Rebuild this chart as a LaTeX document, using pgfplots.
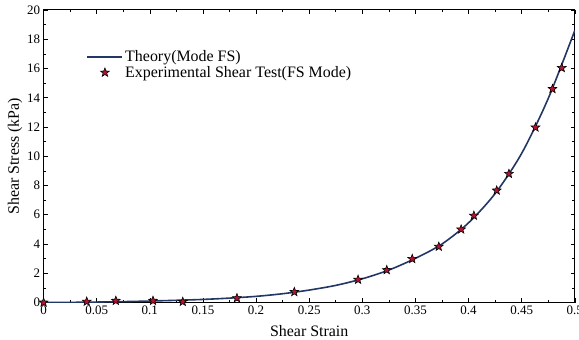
\documentclass[border=0pt]{standalone}
\usepackage{fontspec}
\setmainfont{Liberation Serif}
\usepackage{pgfplots}
\pgfplotsset{compat=1.18}
\definecolor{theory}{RGB}{35,55,100}
\definecolor{starred}{RGB}{175,20,50}
\pgfdeclareplotmark{fstar}{%
 \pgfpathmoveto{\pgfpointpolar{90}{\pgfplotmarksize}}%
 \pgfpathlineto{\pgfpointpolar{126}{0.42*\pgfplotmarksize}}%
 \pgfpathlineto{\pgfpointpolar{162}{\pgfplotmarksize}}%
 \pgfpathlineto{\pgfpointpolar{198}{0.42*\pgfplotmarksize}}%
 \pgfpathlineto{\pgfpointpolar{234}{\pgfplotmarksize}}%
 \pgfpathlineto{\pgfpointpolar{270}{0.42*\pgfplotmarksize}}%
 \pgfpathlineto{\pgfpointpolar{306}{\pgfplotmarksize}}%
 \pgfpathlineto{\pgfpointpolar{342}{0.42*\pgfplotmarksize}}%
 \pgfpathlineto{\pgfpointpolar{18}{\pgfplotmarksize}}%
 \pgfpathlineto{\pgfpointpolar{54}{0.42*\pgfplotmarksize}}%
 \pgfpathclose
 \pgfusepathqfillstroke
}
\pgfplotsset{
  theoryleg/.style={legend image code/.code={\draw[##1] (0bp,0bp) -- (35bp,0bp);}},
  starleg/.style={legend image code/.code={\draw[mark repeat=2,mark phase=2,##1] plot coordinates {(0bp,0bp)(17.5bp,0bp)(35bp,0bp)};}},
}
\begin{document}
\begin{tikzpicture}
\begin{axis}[
  scale only axis, width=531.2bp, height=292.5bp,
  xmin=0, xmax=0.5, ymin=0, ymax=20,
  xtick={0,0.05,0.1,0.15,0.2,0.25,0.3,0.35,0.4,0.45,0.5},
  xticklabels={0,0.05,0.1,0.15,0.2,0.25,0.3,0.35,0.4,0.45,0.5},
  ytick={0,2,4,6,8,10,12,14,16,18,20},
  minor x tick num=1, minor y tick num=1,
  tick align=inside,
  major tick length=4bp, minor tick length=2.5bp,
  every tick/.style={black, line width=0.6bp},
  axis line style={black, line width=1bp},
  /pgf/number format/assume math mode=true,
  tick label style={font=\fontsize{13}{15}\selectfont},
  label style={font=\fontsize{16}{18}\selectfont},
  xlabel={Shear Strain},
  ylabel={Shear Stress (kPa)},
  xlabel style={at={(axis description cs:0.5,-0.0974)}, anchor=center},
  ylabel style={at={(axis description cs:-0.0538,0.5)}, anchor=center},
  legend style={draw=none, fill=none, at={(axis description cs:0.075,0.875)},
    anchor=north west, font=\fontsize{16}{18}\selectfont, row sep=-1bp},
  legend cell align=left,
]
\addplot[theory, line width=1.6bp, smooth, theoryleg]
coordinates {
(0,0) (0.025,0.01) (0.05,0.03) (0.075,0.06) (0.1,0.1) (0.125,0.15)
(0.15,0.21) (0.175,0.3) (0.2,0.42) (0.225,0.6) (0.25,0.85) (0.275,1.17)
(0.3,1.62) (0.325,2.22) (0.35,3.02) (0.375,4.0) (0.4,5.45) (0.425,7.45)
(0.45,10.2) (0.475,13.95) (0.5,18.6)
};
\addlegendentry{Theory(Mode FS)}
\addplot[only marks, mark=fstar, mark size=4.6bp,
  mark options={fill=starred, draw=black, line width=0.6bp}, starleg]
coordinates {
(0,0) (0.0406,0.06) (0.068,0.12) (0.103,0.12) (0.131,0.05) (0.182,0.3)
(0.236,0.72) (0.296,1.56) (0.323,2.22) (0.347,2.98) (0.372,3.82)
(0.393,5.0) (0.405,5.94) (0.4265,7.66) (0.438,8.8) (0.463,11.97)
(0.479,14.6) (0.4877,16.04)
};
\addlegendentry{Experimental Shear Test(FS Mode)}
\end{axis}
\pgfresetboundingbox
\path (-43.6bp,-37.5bp) rectangle (535.4bp,302.5bp);
\end{tikzpicture}
\end{document}
